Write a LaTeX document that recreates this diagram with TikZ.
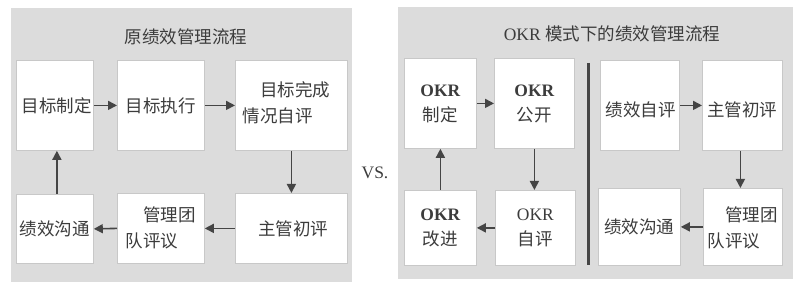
\documentclass[tikz,border=0pt]{standalone}
\usepackage{fontspec}
\setmainfont{Liberation Serif}
\newfontfamily\cjk{Noto Sans CJK SC}
\usetikzlibrary{arrows.meta}
\definecolor{panelgray}{HTML}{DCDCDC}
\definecolor{boxedge}{HTML}{C8C8C8}
\definecolor{txt}{HTML}{3C3C3C}
\definecolor{arr}{HTML}{454545}
\tikzset{
  panel/.style={fill=panelgray, draw=none},
  bx/.style={fill=white, draw=boxedge, line width=0.8pt, inner sep=0pt, anchor=north west},
  lbl/.style={text=txt, font=\fontsize{17.5}{26}\selectfont\cjk},
  okrlbl/.style={text=txt, font=\fontsize{17.5}{25}\selectfont, align=center},
  conn/.style={draw=arr, line width=1.6pt, -{Triangle[length=9pt,width=9pt]}},
  ttl/.style={text=txt, font=\fontsize{17.5}{20}\selectfont},
}
\begin{document}
\begin{tikzpicture}[x=1pt,y=-1pt]
\useasboundingbox (0,0) rectangle (809,288);
\fill[white] (0,0) rectangle (809,288);
% panels
\path[panel] (11,8) rectangle (352,282);
\path[panel] (398,7) rectangle (793,279);
\node[ttl] (t1) at (186,37) {\cjk 原绩效管理流程};
\node[ttl] (t2) at (612,34) {OKR {\cjk 模式下的绩效管理流程}};
\node[ttl] (vs) at (375,173) {VS.};
% left boxes
\node[bx, minimum width=77pt, minimum height=90pt] (L1) at (16,60) {};
\node[bx, minimum width=87pt, minimum height=90pt] (L2) at (117,60) {};
\node[bx, minimum width=112pt, minimum height=90pt] (L3) at (235,60) {};
\node[bx, minimum width=77pt, minimum height=69pt] (L4) at (16,194) {};
\node[bx, minimum width=87pt, minimum height=70pt] (L5) at (117,193) {};
\node[bx, minimum width=112pt, minimum height=70pt] (L6) at (235,193) {};
\node[lbl] (l1t) at ([xshift=2pt]L1.center) {目标制定};
\node[lbl] (l2t) at (L2.center) {目标执行};
\node[lbl, align=left] (l3t) at ([xshift=-5pt,yshift=3pt]L3.center) {\hspace{1em}目标完成\\情况自评};
\node[lbl] (l4t) at (L4.center) {绩效沟通};
\node[lbl, align=left] (l5t) at ([yshift=1pt]L5.center) {\hspace{1em}管理团\\队评议};
\node[lbl] (l6t) at ([xshift=2pt]L6.center) {主管初评};
% left arrows
\draw[conn] (L1.east) -- (L2.west);
\draw[conn] (L2.east) -- (L3.west);
\draw[conn] (L3.south) -- (L6.north);
\draw[conn] (L6.west) -- (L5.east);
\draw[conn] (L5.west) -- (L4.east);
\draw[conn] ([xshift=2pt]L4.north) -- ([xshift=2pt]L1.south);
% right boxes
\node[bx, minimum width=72pt, minimum height=90pt] (R1) at (404,58) {};
\node[bx, minimum width=80pt, minimum height=90pt] (R2) at (494,58) {};
\node[bx, minimum width=72pt, minimum height=75pt] (R3) at (404,190) {};
\node[bx, minimum width=80pt, minimum height=75pt] (R4) at (495,190) {};
\node[bx, minimum width=79pt, minimum height=90pt] (R5) at (600,60) {};
\node[bx, minimum width=80pt, minimum height=90pt] (R6) at (702,60) {};
\node[bx, minimum width=82pt, minimum height=77pt] (R7) at (598,188) {};
\node[bx, minimum width=79pt, minimum height=77pt] (R8) at (703,188) {};
\node[okrlbl] (r1t) at ([yshift=-1pt]R1.center) {\textbf{OKR}\\{\cjk 制定}};
\node[okrlbl] (r2t) at ([yshift=-1pt]R2.center) {\textbf{OKR}\\{\cjk 公开}};
\node[okrlbl] (r3t) at (R3.center) {\textbf{OKR}\\{\cjk 改进}};
\node[okrlbl] (r4t) at (R4.center) {OKR\\{\cjk 自评}};
\node[lbl] (r5t) at ([xshift=1pt,yshift=-4pt]R5.center) {绩效自评};
\node[lbl] (r6t) at ([yshift=-4pt]R6.center) {主管初评};
\node[lbl] (r7t) at (R7.center) {绩效沟通};
\node[lbl, align=left] (r8t) at ([yshift=-1pt]R8.center) {\hspace{1em}管理团\\队评议};
% divider
\coordinate (dtop) at (588,63);
\coordinate (dbot) at (588,265);
\draw[draw=arr, line width=3pt] (dtop) -- (dbot);
% right arrows
\draw[conn] (R1.east) -- (R2.west);
\draw[conn] (R2.south) -- (R2.south |- R4.north);
\draw[conn] (R4.west) -- (R3.east);
\draw[conn] (R3.north) -- (R1.south);
\draw[conn] (R5.east) -- (R6.west);
\draw[conn] ([xshift=-2pt]R6.south) -- ([xshift=-2pt]R6.south |- R8.north);
\draw[conn] (R8.west) -- (R7.east);
\end{tikzpicture}
\end{document}
